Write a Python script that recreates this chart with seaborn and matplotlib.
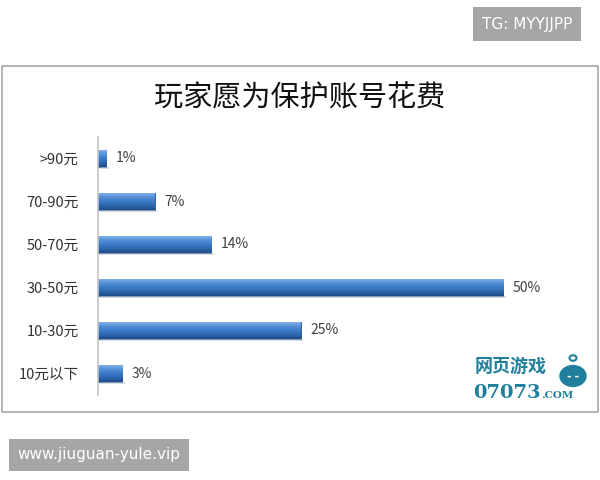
import numpy as np
import pandas as pd
import matplotlib
matplotlib.use("Agg")
import matplotlib.pyplot as plt
from matplotlib.patches import Rectangle, Circle
from matplotlib.colors import LinearSegmentedColormap
import seaborn as sns

# data
categories = [">90元", "70-90元", "50-70元", "30-50元", "10-30元", "10元以下"]
shares = [1, 7, 14, 50, 25, 3]
title = "玩家愿为保护账号花费"

sns.set_theme(style="white")
plt.rcParams['font.family'] = ['Noto Sans CJK SC', 'DejaVu Sans']

df = pd.DataFrame({"range": categories, "share": shares})

fig = plt.figure(figsize=(6, 4.8), dpi=100)
fig.patch.set_facecolor("white")

# chart frame
fig.patches.append(Rectangle((0.003, 1 - 412 / 480), 0.994, (412 - 66) / 480,
                             transform=fig.transFigure, fill=False,
                             edgecolor="#a8a8a8", linewidth=1.2))

ax = fig.add_axes([98 / 600, 1 - 395 / 480, 492 / 600, 258 / 480])
sns.barplot(data=df, x="share", y="range", orient="h", ax=ax,
            color="#3f7dca", width=0.4, saturation=1, edgecolor="#24518c",
            linewidth=0.6)

# cylinder-ish gradient on each bar
cmap = LinearSegmentedColormap.from_list(
    "bar", ["#8bb8ec", "#5a93d8", "#3d7bc8", "#2f68b0", "#1d4a86"])
grad = np.linspace(0, 1, 64).reshape(-1, 1)
for p in ax.patches:
    x0, y0 = p.get_x(), p.get_y()
    w, h = p.get_width(), p.get_height()
    # soft shadow underneath
    ax.add_patch(Rectangle((x0 + 0.3, y0 + h), w, 0.05, color="#b9c3cf",
                           alpha=0.6, zorder=1.5, linewidth=0))
    im = ax.imshow(grad, extent=(x0, x0 + w, y0 + h, y0), cmap=cmap,
                   aspect="auto", zorder=2.5, interpolation="bicubic")
    im.set_clip_path(p)

ax.set_xlim(0, 60.7)
ax.set_ylim(5.5, -0.5)

for i, v in enumerate(shares):
    ax.text(v + 1.2, i, f"{v}%", va="center", ha="left", fontsize=10,
            color="#404040")

ax.set_xlabel("")
ax.set_ylabel("")
ax.set_xticks([])
ax.tick_params(axis="y", length=0, pad=14, labelsize=10.5, labelcolor="#333333")
for s in ["top", "right", "bottom"]:
    ax.spines[s].set_visible(False)
ax.spines["left"].set_color("#c4c4c4")
ax.spines["left"].set_linewidth(1.2)
ax.set_facecolor("none")

fig.text(0.5, 1 - 98 / 480, title, ha="center", va="center", fontsize=21,
         color="#111111")

# site logo, bottom right
fig.text(511 / 600, 1 - 366 / 480, "网页游戏", ha="center", va="center",
         fontsize=13, fontweight="bold", color="#1f7f9c")
fig.text(473 / 600, 1 - 393 / 480, "07073", ha="left", va="center",
         fontsize=14, fontweight="bold", family="DejaVu Serif", color="#1f7f9c")
fig.text(541 / 600, 1 - 395 / 480, ".COM", ha="left", va="center",
         fontsize=7.5, fontweight="bold", family="DejaVu Serif", color="#1f7f9c")
fig.patches.append(Circle((573 / 600, 1 - 376 / 480), 13 / 600,
                          transform=fig.transFigure, color="#1f7f9c"))
fig.patches.append(Circle((573 / 600, 1 - 358 / 480), 3.5 / 600,
                          transform=fig.transFigure, fill=False,
                          edgecolor="#1f7f9c", linewidth=1.5))
fig.text(573 / 600, 1 - 376 / 480, "- -", ha="center", va="center",
         fontsize=9, fontweight="bold", color="white")

# watermarks
fig.text(527 / 600, 1 - 24 / 480, "TG: MYYJJPP", ha="center", va="center",
         fontsize=11, color="white", family="DejaVu Sans",
         bbox=dict(boxstyle="square,pad=0.6", facecolor="#a6a6a6",
                   edgecolor="none"))
fig.text(99 / 600, 1 - 455 / 480, "www.jiuguan-yule.vip", ha="center",
         va="center", fontsize=11, color="white", family="DejaVu Sans",
         bbox=dict(boxstyle="square,pad=0.55", facecolor="#a6a6a6",
                   edgecolor="none"))

fig.savefig("out.png", dpi=100, facecolor="white")
